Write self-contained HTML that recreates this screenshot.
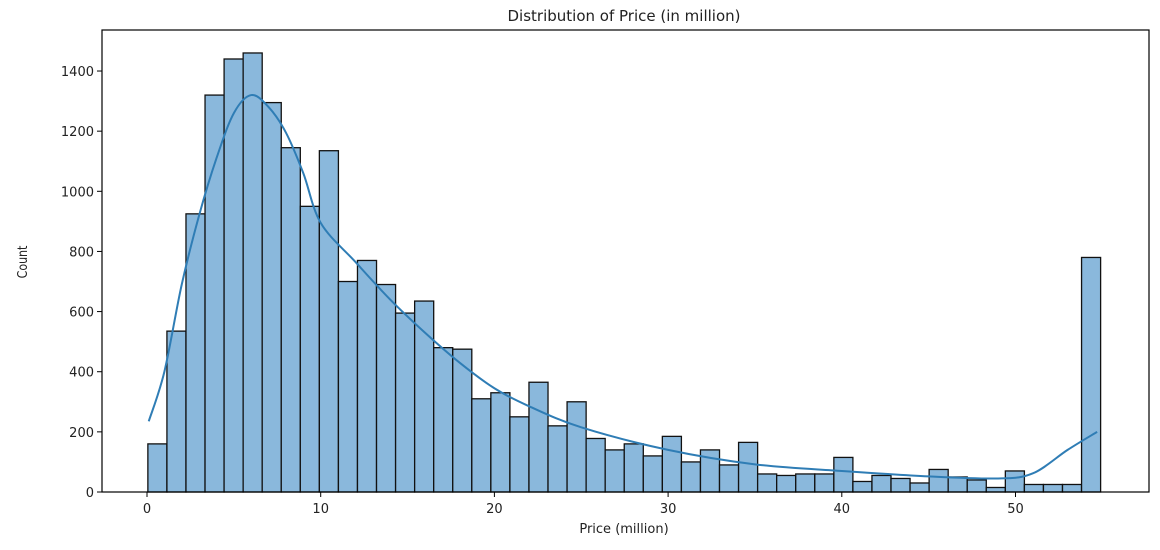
<!DOCTYPE html>
<html><head><meta charset="utf-8"><style>
body{margin:0;background:#fff;}
svg text{font-family:"DejaVu Sans","Liberation Sans",sans-serif;fill:#222;}
</style></head><body>
<svg id="chart" width="1160" height="545">
<text x="624" y="21" font-size="15" text-anchor="middle">Distribution of Price (in million)</text>
<text x="0" y="0" font-size="13" text-anchor="middle" transform="translate(27,262) rotate(-90) scale(0.85,1)">Count</text>
<text x="624" y="533" font-size="13" text-anchor="middle">Price (million)</text>
<g id="bars"></g>
<g id="kde"></g>
<g id="axes"></g>
<rect x="102" y="30" width="1047" height="462" fill="none" stroke="#000" stroke-width="1.2"/>
</svg>
<script>
const counts=[160,535,925,1320,1440,1460,1295,1145,950,1135,700,770,690,595,635,480,475,310,330,250,365,220,300,178,140,160,120,185,100,140,90,165,60,55,60,60,115,35,55,45,30,75,50,40,15,70,25,25,25,780];
const binStart=0.05, binEnd=54.9;
const kdeX=[0.1,1,2,3,4,5,6,7,8,9,10,12,14,16,18,20,22,25,30,35,40,45,49,51,53,54.7];
const kdeY=[235,400,690,920,1110,1260,1320,1280,1195,1060,895,765,640,530,430,345,285,215,140,92,70,52,45,62,140,200];
const xTicks=[0,10,20,30,40,50];
const yTicks=[0,200,400,600,800,1000,1200,1400];
const NS="http://www.w3.org/2000/svg";
const X=v=>147+v*17.37;
const Y=v=>492-v*0.3007;
const bars=document.getElementById('bars');
const w=(binEnd-binStart)/counts.length;
counts.forEach((c,i)=>{
 const r=document.createElementNS(NS,'rect');
 const x0=X(binStart+i*w), x1=X(binStart+(i+1)*w);
 r.setAttribute('x',x0);r.setAttribute('y',Y(c));
 r.setAttribute('width',x1-x0);r.setAttribute('height',Y(0)-Y(c));
 r.setAttribute('fill','#8ab8dc');r.setAttribute('stroke','#111');r.setAttribute('stroke-width','1.3');
 
 
 bars.appendChild(r);
});
const pts=kdeX.map((x,i)=>[X(x),Y(kdeY[i])]);
let d='M'+pts[0][0]+','+pts[0][1];
for(let i=0;i<pts.length-1;i++){
 const p0=pts[Math.max(0,i-1)],p1=pts[i],p2=pts[i+1],p3=pts[Math.min(pts.length-1,i+2)];
 d+=' C'+(p1[0]+(p2[0]-p0[0])/6)+','+(p1[1]+(p2[1]-p0[1])/6)+' '+(p2[0]-(p3[0]-p1[0])/6)+','+(p2[1]-(p3[1]-p1[1])/6)+' '+p2[0]+','+p2[1];
}
const path=document.createElementNS(NS,'path');
path.setAttribute('d',d);path.setAttribute('fill','none');path.setAttribute('stroke','#2f7db5');path.setAttribute('stroke-width','2');


document.getElementById('kde').appendChild(path);
const axes=document.getElementById('axes');
xTicks.forEach(t=>{
 const l=document.createElementNS(NS,'line');
 l.setAttribute('x1',X(t));l.setAttribute('x2',X(t));l.setAttribute('y1',492);l.setAttribute('y2',497);l.setAttribute('stroke','#000');
 
 
 axes.appendChild(l);
 const tx=document.createElementNS(NS,'text');
 tx.setAttribute('x',X(t));tx.setAttribute('y',513);tx.setAttribute('font-size','13');tx.setAttribute('text-anchor','middle');
 tx.textContent=t;
 
 
 axes.appendChild(tx);
});
yTicks.forEach(t=>{
 const l=document.createElementNS(NS,'line');
 l.setAttribute('x1',97);l.setAttribute('x2',102);l.setAttribute('y1',Y(t));l.setAttribute('y2',Y(t));l.setAttribute('stroke','#000');
 
 
 axes.appendChild(l);
 const tx=document.createElementNS(NS,'text');
 tx.setAttribute('x',94);tx.setAttribute('y',Y(t)+5);tx.setAttribute('font-size','13');tx.setAttribute('text-anchor','end');
 tx.textContent=t;
 
 
 axes.appendChild(tx);
});
</script>
</body></html>
